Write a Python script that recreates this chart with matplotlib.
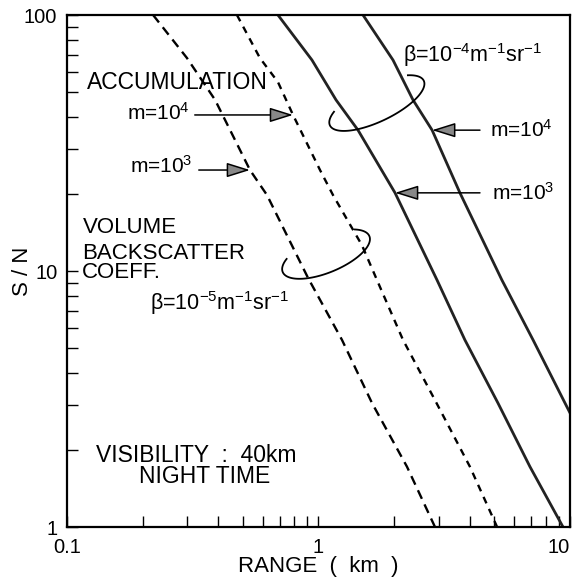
import numpy as np
import matplotlib
matplotlib.use('Agg')
from matplotlib import pyplot as plt

plt.rcParams['font.family'] = ['Liberation Sans', 'DejaVu Sans']
plt.rcParams['mathtext.fontset'] = 'custom'
plt.rcParams['mathtext.rm'] = 'Liberation Sans'
plt.rcParams['mathtext.it'] = 'Liberation Sans'

# range (km) vs S/N
# beta = 1e-5 m^-1 sr^-1 (dashed)
b5_m3_x = [0.220, 0.300, 0.388, 0.534, 0.624, 0.909, 1.240, 1.632, 2.248, 2.905]
b5_m3_y = [100, 67.9, 46.6, 24.8, 19.8, 9.39, 5.38, 3.05, 1.72, 1.0]
b5_m4_x = [0.474, 0.585, 0.690, 0.792, 1.014, 1.142, 1.489, 1.756, 2.168, 2.905, 4.00, 5.13]
b5_m4_y = [100, 67.9, 54.7, 40.7, 24.8, 19.8, 12.6, 8.66, 5.38, 3.13, 1.72, 1.0]
# beta = 1e-4 m^-1 sr^-1 (solid)
b4_m3_x = [0.690, 0.942, 1.174, 1.436, 2.015, 2.96, 3.82, 5.17, 6.93, 9.38]
b4_m3_y = [100, 66.7, 46.6, 35.5, 20.2, 9.22, 5.38, 3.05, 1.72, 1.0]
b4_m4_x = [1.503, 1.978, 2.375, 2.83, 3.65, 5.36, 7.13, 9.55, 10.0]
b4_m4_y = [100, 66.7, 46.6, 35.5, 20.2, 9.22, 5.38, 3.05, 2.79]

xticks = [0.1, 1, 10]
xticklabels = ['0.1', '1', '10']
yticks = [1, 10, 100]
yticklabels = ['1', '10', '100']

fig = plt.figure(figsize=(5.76, 5.82), dpi=100)
ax = fig.add_axes([0.1163, 0.0945, 0.8733, 0.8797])

ax.plot(b5_m3_x, b5_m3_y, color='black', lw=1.7, dashes=(4, 2.6))
ax.plot(b5_m4_x, b5_m4_y, color='black', lw=1.7, dashes=(3, 2.6))
ax.plot(b4_m3_x, b4_m3_y, color='#222222', lw=2.0)
ax.plot(b4_m4_x, b4_m4_y, color='#222222', lw=2.0)

ax.set_xscale('log')
ax.set_yscale('log')
ax.set_xlim(0.1, 10)
ax.set_ylim(1, 100)
ax.set_xticks(xticks)
ax.set_xticklabels(xticklabels)
ax.set_yticks(yticks)
ax.set_yticklabels(yticklabels)
ax.tick_params(which='both', direction='in', length=8, width=1.0, labelsize=14.5,
               top=False, right=False)
ax.tick_params(axis='x', pad=8)
ax.tick_params(axis='y', pad=7)
ax.get_xticklabels()[-1].set_ha('right')
for s in ax.spines.values():
    s.set_linewidth(1.6)

ax.set_xlabel('RANGE  (  km  )', fontsize=16, va='top')
ax.xaxis.set_label_coords(0.5, -0.056)
ax.set_ylabel('S / N', fontsize=16)
ax.yaxis.set_label_coords(-0.068, 0.5)

fs = 16.5
ax.text(0.040, 0.855, 'ACCUMULATION', fontsize=fs, transform=ax.transAxes)
ax.text(0.032, 0.574, 'VOLUME', fontsize=16, transform=ax.transAxes)
ax.text(0.030, 0.523, 'BACKSCATTER', fontsize=16, transform=ax.transAxes)
ax.text(0.030, 0.486, 'COEFF.', fontsize=16, transform=ax.transAxes)
ax.text(0.256, 0.127, 'VISIBILITY  :  40km', fontsize=fs, ha='center', transform=ax.transAxes)
ax.text(0.274, 0.086, 'NIGHT TIME', fontsize=fs, ha='center', transform=ax.transAxes)

fm = 15
ax.text(0.245, 0.795, r'm=10$^{4}$', fontsize=fm, ha='right', transform=ax.transAxes)
ax.text(0.250, 0.691, r'm=10$^{3}$', fontsize=fm, ha='right', transform=ax.transAxes)
ax.text(0.841, 0.762, r'm=10$^{4}$', fontsize=fm, transform=ax.transAxes)
ax.text(0.845, 0.639, r'm=10$^{3}$', fontsize=fm, transform=ax.transAxes)
ax.text(0.165, 0.424, r'β=10$^{-5}$m$^{-1}$sr$^{-1}$', fontsize=15.5, transform=ax.transAxes)
ax.text(0.668, 0.908, r'β=10$^{-4}$m$^{-1}$sr$^{-1}$', fontsize=15.5, transform=ax.transAxes)

arr = dict(arrowstyle='-|>,head_length=0.8,head_width=0.25', color='black',
           fc='#888888', lw=1.1, mutation_scale=18, shrinkA=0, shrinkB=0)
# arrows pointing at curve points
ax.annotate('', xy=(b5_m4_x[3], b5_m4_y[3]), xytext=(0.254, b5_m4_y[3]),
            textcoords=('axes fraction', 'data'), arrowprops=arr)
ax.annotate('', xy=(b5_m3_x[3], b5_m3_y[3]), xytext=(0.262, b5_m3_y[3]),
            textcoords=('axes fraction', 'data'), arrowprops=arr)
ax.annotate('', xy=(b4_m4_x[3], b4_m4_y[3]), xytext=(0.821, b4_m4_y[3]),
            textcoords=('axes fraction', 'data'), arrowprops=arr)
ax.annotate('', xy=(b4_m3_x[4], b4_m3_y[4]), xytext=(0.821, b4_m3_y[4]),
            textcoords=('axes fraction', 'data'), arrowprops=arr)

# open loops grouping the curve pairs
def loop(cx, cy, a, b, ang):
    t = np.radians(np.linspace(40, -215, 120))
    th = np.radians(ang)
    x = cx + a * np.cos(t) * np.cos(th) - b * np.sin(t) * np.sin(th)
    y = cy + a * np.cos(t) * np.sin(th) + b * np.sin(t) * np.cos(th)
    ax.plot(x, y, color='black', lw=1.3, transform=ax.transAxes, clip_on=False)

loop(0.616, 0.828, 0.103, 0.036, 25)
loop(0.515, 0.533, 0.093, 0.036, 22)

fig.savefig('out.png', dpi=100)
